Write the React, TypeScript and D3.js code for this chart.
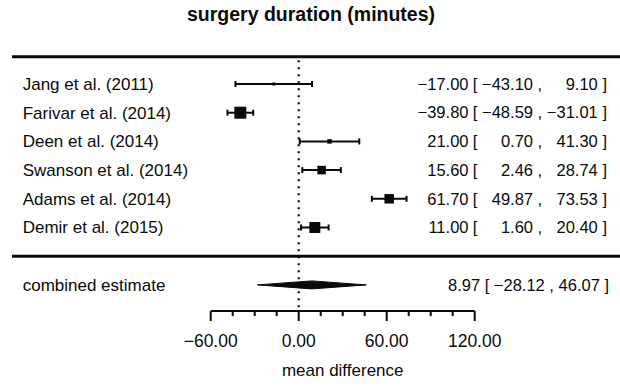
import React from "react";
import * as d3 from "d3";

const studies = [
  "Jang et al. (2011)",
  "Farivar et al. (2014)",
  "Deen et al. (2014)",
  "Swanson et al. (2014)",
  "Adams et al. (2014)",
  "Demir et al. (2015)",
];
const estimates = [-17.0, -39.8, 21.0, 15.6, 61.7, 11.0];
const lowers = [-43.1, -48.59, 0.7, 2.46, 49.87, 1.6];
const uppers = [9.1, -31.01, 41.3, 28.74, 73.53, 20.4];
const weights = [15.7, 17.2, 15.95, 16.62, 16.78, 17.03];
const combinedLabel = "combined estimate";
const combined = { est: 8.97, lo: -28.12, hi: 46.07 };
const majorTicks = [-60, 0, 60, 120];
const minorTicks = d3.range(-60, 121, 15);
const title = "surgery duration (minutes)";
const xLabel = "mean difference";

const W = 620;
const H = 386;
const FONT = "'Liberation Sans', Arial, Helvetica, sans-serif";
const INK = "#0a0a0a";

const fmt = (v: number) => {
  const s = v.toFixed(2);
  return v < 0 ? "\u2212" + s.slice(1) : s;
};

export default function App() {
  const k = studies.length;
  const x = d3.scaleLinear().domain([-60, 120]).range([210.7, 474.7]);
  // row units: study i sits at row k - i; combined at -1, axis at -2
  const y = d3.scaleLinear().domain([k, 1]).range([84, 227.5]);
  const box = d3
    .scaleLinear()
    .domain([d3.min(weights) as number, d3.max(weights) as number])
    .range([3, 12]);

  const rowEnd = 607;
  const cols = { est: 468.5, open: 472.8, lo: 533, comma: 537.6, hi: 597.8 };

  const annot = (yy: number, est: number, lo: number, hi: number) => (
    <g fontFamily={FONT} fontSize={16.5} fill={INK}>
      <text x={cols.est} y={yy} dy="0.35em" textAnchor="end">{fmt(est)}</text>
      <text x={cols.open} y={yy} dy="0.35em">[</text>
      <text x={cols.lo} y={yy} dy="0.35em" textAnchor="end">{fmt(lo)}</text>
      <text x={cols.comma} y={yy} dy="0.35em">,</text>
      <text x={cols.hi} y={yy} dy="0.35em" textAnchor="end">{fmt(hi)}</text>
      <text x={rowEnd} y={yy} dy="0.35em" textAnchor="end">]</text>
    </g>
  );

  const yTop = y(k + 1);
  const yBottom = y(0);
  const yComb = y(-1);
  const yAxis = y(-2) - 2.5;
  const x0 = x(0);

  return (
    <svg width={W} height={H} style={{ position: "absolute", left: 0, top: 0, background: "#fff" }}>
      <rect width={W} height={H} fill="#fff" />
      <text x={311} y={21} textAnchor="middle" fontFamily={FONT} fontWeight="bold" fontSize={19.5} fill={INK}>
        {title}
      </text>

      {/* horizontal rules */}
      <line x1={12} x2={W} y1={yTop + 1.5} y2={yTop + 1.5} stroke={INK} strokeWidth={3} />
      <line x1={12} x2={W} y1={yBottom} y2={yBottom} stroke={INK} strokeWidth={3} />

      {/* reference line at 0 */}
      <line x1={x0} x2={x0} y1={yTop + 5} y2={yAxis} stroke={INK} strokeWidth={2.2} strokeDasharray="2,5" />

      {studies.map((s, i) => {
        const yy = y(k - i);
        const sz = box(weights[i]);
        return (
          <g key={s}>
            <text x={22.7} y={yy} dy="0.35em" fontFamily={FONT} fontSize={17} fill={INK}>{s}</text>
            <line x1={x(lowers[i])} x2={x(uppers[i])} y1={yy} y2={yy} stroke={INK} strokeWidth={2} />
            <line x1={x(lowers[i])} x2={x(lowers[i])} y1={yy - 3} y2={yy + 3} stroke={INK} strokeWidth={2} />
            <line x1={x(uppers[i])} x2={x(uppers[i])} y1={yy - 3} y2={yy + 3} stroke={INK} strokeWidth={2} />
            <rect x={x(estimates[i]) - sz / 2} y={yy - sz / 2} width={sz} height={sz} fill={INK} />
            {annot(yy, estimates[i], lowers[i], uppers[i])}
          </g>
        );
      })}

      {/* combined */}
      <text x={22.7} y={yComb} dy="0.35em" fontFamily={FONT} fontSize={17} fill={INK}>{combinedLabel}</text>
      <polygon
        points={[
          [x(combined.lo), yComb],
          [x(combined.est), yComb - 4],
          [x(combined.hi), yComb],
          [x(combined.est), yComb + 4],
        ]
          .map((p) => p.join(","))
          .join(" ")}
        fill={INK}
        stroke={INK}
        strokeWidth={1}
      />
      <text
        x={rowEnd + 2}
        y={yComb}
        dy="0.35em"
        textAnchor="end"
        fontFamily={FONT}
        fontSize={16.5}
        fill={INK}
        style={{ whiteSpace: "pre" }}
      >
        {`${fmt(combined.est)} [ ${fmt(combined.lo)} , ${fmt(combined.hi)} ]`}
      </text>

      {/* axis */}
      <g stroke={INK} strokeWidth={2}>
        <line x1={x(-60)} x2={x(120)} y1={yAxis} y2={yAxis} />
        {minorTicks.map((t) => (
          <line key={t} x1={x(t)} x2={x(t)} y1={yAxis} y2={yAxis + (majorTicks.includes(t) ? 10 : 5)} />
        ))}
      </g>
      {majorTicks.map((t) => (
        <text key={t} x={x(t)} y={347} textAnchor="middle" fontFamily={FONT} fontSize={17.5} fill={INK}>
          {fmt(t)}
        </text>
      ))}
      <text x={(x(-60) + x(120)) / 2} y={376} textAnchor="middle" fontFamily={FONT} fontSize={17} fill={INK}>
        {xLabel}
      </text>
    </svg>
  );
}
